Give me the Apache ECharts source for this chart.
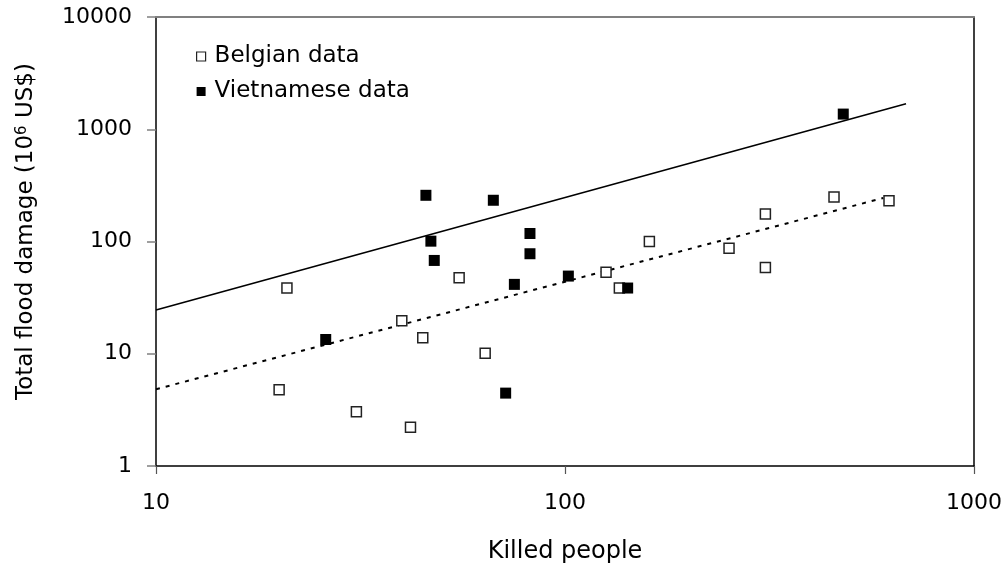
<!DOCTYPE html>
<html>
<head>
<meta charset="utf-8">
<script src="https://cdn.jsdelivr.net/npm/echarts@6/dist/echarts.min.js"></script>
<style>
html,body{margin:0;padding:0;background:#fff;}
#chart{width:1007px;height:569px;}
</style>
</head>
<body>
<div id="chart"></div>
<script>
// Belgian data (killed people, damage in 10^6 US$)
var belgianKilled = [20.9, 39.9, 44.9, 55.1, 63.8, 20.0, 30.9, 41.9, 126, 135.8, 160.8, 251.8, 309, 309, 454.7, 619.7];
var belgianDamage = [38.5, 19.7, 13.9, 47.6, 10.1, 4.77, 3.04, 2.21, 53.3, 38.5, 100, 87.2, 58.7, 176, 249, 231];
// Vietnamese data
var vietKilled = [45.7, 66.8, 47.0, 47.9, 26.0, 75.2, 82.1, 82.1, 71.6, 101.9, 142.3, 479];
var vietDamage = [258, 233, 100.7, 67.8, 13.4, 41.5, 117.8, 77.8, 4.46, 49.2, 38.5, 1365];
// Trend lines (end points)
var vietTrendX = [10, 682];
var vietTrendY = [24.5, 1686];
var belgTrendX = [10, 600];
var belgTrendY = [4.83, 244];
// Axis ticks
var xTicks = [10, 100, 1000];
var yTicks = [1, 10, 100, 1000, 10000];

function zip(a, b) { return a.map(function (v, i) { return [v, b[i]]; }); }

var FONT = 'DejaVu Sans';
var chart = echarts.init(document.getElementById('chart'), null, {renderer: 'canvas'});
chart.setOption({
  animation: false,
  backgroundColor: '#fff',
  textStyle: {fontFamily: FONT, color: '#000'},
  grid: {left: 156, right: 33, top: 17, bottom: 102, show: false},
  legend: {
    orient: 'vertical', left: 191, top: 40, itemGap: 12,
    itemWidth: 9, itemHeight: 9,
    textStyle: {fontFamily: FONT, fontSize: 23, color: '#000', padding: [0, 0, 0, 4]},
    data: [
      {name: 'Belgian data', icon: 'rect', itemStyle: {color: '#fff', borderColor: '#222', borderWidth: 1.2}},
      {name: 'Vietnamese data', icon: 'rect', itemStyle: {color: '#000'}}
    ]
  },
  xAxis: [{
    type: 'log', logBase: 10, min: xTicks[0], max: xTicks[xTicks.length - 1],
    name: 'Killed people', nameLocation: 'middle', nameGap: 74,
    nameTextStyle: {fontFamily: FONT, fontSize: 24, color: '#000'},
    axisLine: {lineStyle: {color: '#000', width: 1.5}},
    axisTick: {show: true, length: 8, lineStyle: {color: '#555', width: 1.2}},
    axisLabel: {margin: 26, fontFamily: FONT, fontSize: 22, color: '#000',
      formatter: function (v) { return String(Math.round(v)); }},
    splitLine: {show: false}, minorTick: {show: false}
  }, {
    type: 'value', position: 'top', min: 0, max: 1,
    axisLine: {show: true, onZero: false, lineStyle: {color: '#808080', width: 2}},
    axisTick: {show: false}, axisLabel: {show: false}, splitLine: {show: false}
  }],
  yAxis: [{
    type: 'log', logBase: 10, min: yTicks[0], max: yTicks[yTicks.length - 1],
    name: 'Total flood damage (10{sup|6} US$)', nameLocation: 'middle', nameGap: 118,
    nameRotate: 90,
    nameTextStyle: {fontFamily: FONT, fontSize: 23, color: '#000', padding: [0, 0, 0, 20],
      rich: {sup: {fontFamily: FONT, fontSize: 15, color: '#000', verticalAlign: 'top', lineHeight: 23, padding: [0, 0, 8, 0]}}},
    axisLine: {lineStyle: {color: '#000', width: 1.5}},
    axisTick: {show: true, length: 9, lineStyle: {color: '#808080', width: 1.5}},
    axisLabel: {margin: 24, fontFamily: FONT, fontSize: 22, color: '#000',
      formatter: function (v) { return String(Math.round(v)); }},
    splitLine: {show: false}, minorTick: {show: false}
  }, {
    type: 'value', position: 'right', min: 0, max: 1,
    axisLine: {show: true, onZero: false, lineStyle: {color: '#000', width: 1.5}},
    axisTick: {show: false}, axisLabel: {show: false}, splitLine: {show: false}
  }],
  series: [{
    name: 'Vietnamese trend', type: 'line', data: zip(vietTrendX, vietTrendY),
    symbol: 'none', lineStyle: {color: '#000', width: 1.6}, silent: true, z: 1
  }, {
    name: 'Belgian trend', type: 'line', data: zip(belgTrendX, belgTrendY),
    symbol: 'none', lineStyle: {color: '#000', width: 2, type: [4, 6]}, silent: true, z: 1
  }, {
    name: 'Belgian data', type: 'scatter', data: zip(belgianKilled, belgianDamage),
    symbol: 'rect', symbolSize: 10,
    itemStyle: {color: '#fff', borderColor: '#222', borderWidth: 1.5, opacity: 1}, z: 3
  }, {
    name: 'Vietnamese data', type: 'scatter', data: zip(vietKilled, vietDamage),
    symbol: 'rect', symbolSize: 11,
    itemStyle: {color: '#000', opacity: 1}, z: 4
  }]
});
</script>
</body>
</html>
